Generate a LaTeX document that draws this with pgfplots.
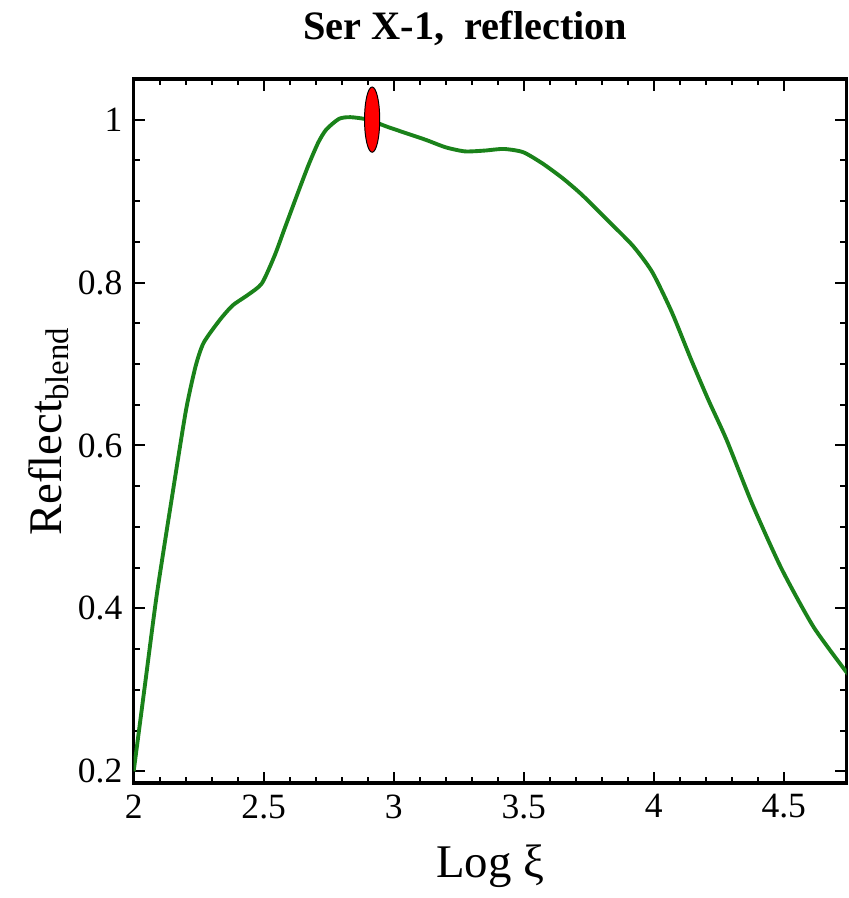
\documentclass[border=0pt]{standalone}
\usepackage{fontspec}
\setmainfont{Liberation Serif}
\usepackage{pgfplots}
\pgfplotsset{compat=1.18}
\definecolor{curvegreen}{RGB}{26,130,26}

\begin{document}
\begin{tikzpicture}
\begin{axis}[
    scale only axis,
    width=220.8pt,
    height=218.1pt,
    xmin=2, xmax=4.742,
    ymin=0.1854, ymax=1.05,
    xtick={2,2.5,3,3.5,4,4.5},
    ytick={0.2,0.4,0.6,0.8,1},
    yticklabels={0.2,0.4,0.6,0.8,1},
    minor x tick num=4,
    minor y tick num=3,
    tick align=inside,
    major tick length=3.6pt,
    minor tick length=2pt,
    axis line style={line width=1.1pt},
    every tick/.style={black, line width=0.6pt},
    /pgf/number format/assume math mode=true,
    tick label style={font=\fontsize{11}{13}\selectfont},
    title={\textbf{Ser X-1,~~reflection}},
    title style={font=\fontsize{12.5}{14}\selectfont, at={(axis description cs:0.465,1)}, anchor=base, yshift=6.3pt},
    xlabel={Log ξ},
    xlabel style={font=\fontsize{14.5}{16}\selectfont, at={(axis description cs:0.5,0)}, anchor=base, yshift=-29.1pt},
    ylabel={Reflect\textsubscript{blend}},
    ylabel style={font=\fontsize{14.5}{16}\selectfont, at={(axis description cs:-0.075,0.5)}, anchor=south},
]

% reflection curve
\addplot[curvegreen, line width=1.2pt, smooth, tension=0.4]
coordinates {
(2.000,0.200) (2.045,0.310) (2.089,0.417) (2.151,0.544) (2.201,0.643)
(2.238,0.697) (2.269,0.726) (2.331,0.754) (2.381,0.772) (2.440,0.785)
(2.493,0.799) (2.542,0.833) (2.579,0.865) (2.629,0.908) (2.672,0.944)
(2.710,0.972) (2.741,0.988) (2.790,1.001) (2.834,1.003) (2.901,1.000)
(2.977,0.991) (3.051,0.983) (3.125,0.975) (3.200,0.966) (3.274,0.961)
(3.350,0.962) (3.423,0.964) (3.498,0.960) (3.573,0.946) (3.650,0.928)
(3.723,0.908) (3.821,0.877) (3.920,0.845) (3.994,0.813) (4.069,0.764)
(4.143,0.706) (4.210,0.656) (4.280,0.607) (4.379,0.528) (4.491,0.449)
(4.615,0.377) (4.750,0.318)
};

% observed value
\addplot[only marks, mark=*, mark size=2.35pt,
    mark options={fill=red, draw=black, line width=0.3pt, yscale=4.3}]
coordinates {(2.917,1.000)};

\end{axis}
\path ([shift={(-41.4pt,-33pt)}]current axis.south west)
      rectangle ([shift={(0.6pt,18.3pt)}]current axis.north east);
\end{tikzpicture}
\end{document}
